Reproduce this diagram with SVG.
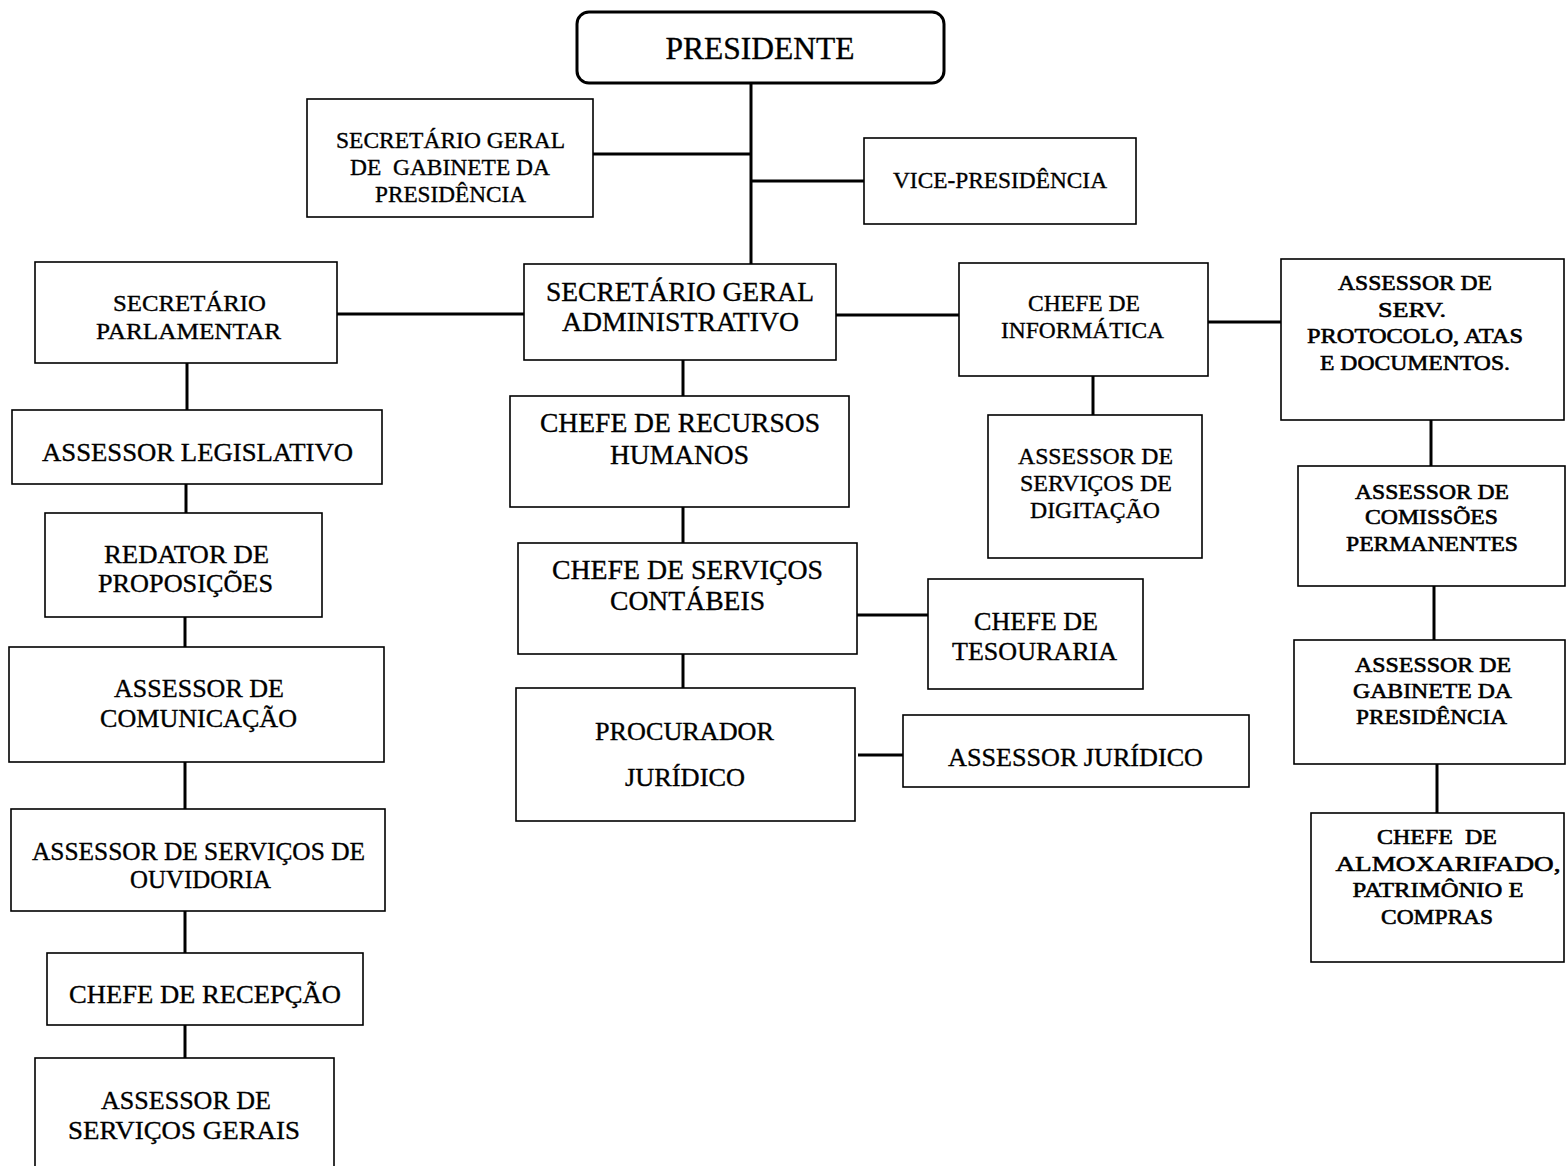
<svg xmlns="http://www.w3.org/2000/svg" width="1566" height="1166" viewBox="0 0 1566 1166">
<style>
.box{fill:#fff;stroke:#000;stroke-width:1.6}
.pres{fill:#fff;stroke:#000;stroke-width:3}
.c line{stroke:#000;stroke-width:3}
text{font-family:'Liberation Serif','DejaVu Serif',serif;fill:#000;stroke:#000;stroke-width:0.35;text-anchor:middle;white-space:pre}
.hv text{stroke-width:0.6}
.f22{font-size:22px}
.f24{font-size:24px}
.f26{font-size:26px}
.f28{font-size:28px}
.f32{font-size:32px}
</style>
<rect width="1566" height="1166" fill="#fff"/>
<g class="c" id="connectors">
<line x1="751" y1="83" x2="751" y2="264"/>
<line x1="593" y1="154" x2="751" y2="154"/>
<line x1="751" y1="181" x2="864" y2="181"/>
<line x1="337" y1="314" x2="524" y2="314"/>
<line x1="836" y1="315" x2="959" y2="315"/>
<line x1="1208" y1="322" x2="1281" y2="322"/>
<line x1="187" y1="363" x2="187" y2="410"/>
<line x1="186" y1="484" x2="186" y2="513"/>
<line x1="185" y1="617" x2="185" y2="647"/>
<line x1="185" y1="762" x2="185" y2="809"/>
<line x1="185" y1="911" x2="185" y2="953"/>
<line x1="185" y1="1025" x2="185" y2="1058"/>
<line x1="683" y1="360" x2="683" y2="396"/>
<line x1="683" y1="507" x2="683" y2="543"/>
<line x1="683" y1="654" x2="683" y2="688"/>
<line x1="857" y1="615" x2="928" y2="615"/>
<line x1="858" y1="755" x2="903" y2="755"/>
<line x1="1093" y1="376" x2="1093" y2="415"/>
<line x1="1431" y1="420" x2="1431" y2="466"/>
<line x1="1434" y1="586" x2="1434" y2="640"/>
<line x1="1437" y1="764" x2="1437" y2="813"/>
</g>
<g font-family="Liberation Serif, DejaVu Serif, serif">
<g id="presidente">
<rect class="pres" x="577" y="12" width="367" height="71" rx="12"/>
<text class="f32" x="760" y="59" textLength="189" lengthAdjust="spacingAndGlyphs">PRESIDENTE</text>
</g>
<g id="sec-gabinete">
<rect class="box" x="307" y="99" width="286" height="118"/>
<text class="f24" x="450.5" y="148" textLength="229" lengthAdjust="spacingAndGlyphs">SECRETÁRIO GERAL</text>
<text class="f24" x="450" y="175" textLength="200" lengthAdjust="spacingAndGlyphs">DE  GABINETE DA</text>
<text class="f24" x="450.5" y="202" textLength="151" lengthAdjust="spacingAndGlyphs">PRESIDÊNCIA</text>
</g>
<g id="vice">
<rect class="box" x="864" y="138" width="272" height="86"/>
<text class="f24" x="1000" y="188" textLength="214" lengthAdjust="spacingAndGlyphs">VICE-PRESIDÊNCIA</text>
</g>
<g id="sec-parlamentar">
<rect class="box" x="35" y="262" width="302" height="101"/>
<text class="f24" x="189.5" y="311" textLength="153" lengthAdjust="spacingAndGlyphs">SECRETÁRIO</text>
<text class="f24" x="188.5" y="339" textLength="185" lengthAdjust="spacingAndGlyphs">PARLAMENTAR</text>
</g>
<g id="sec-admin">
<rect class="box" x="524" y="264" width="312" height="96"/>
<text class="f28" x="680" y="301" textLength="268" lengthAdjust="spacingAndGlyphs">SECRETÁRIO GERAL</text>
<text class="f28" x="680.5" y="331" textLength="237" lengthAdjust="spacingAndGlyphs">ADMINISTRATIVO</text>
</g>
<g id="informatica">
<rect class="box" x="959" y="263" width="249" height="113"/>
<text class="f24" x="1084" y="311" textLength="112" lengthAdjust="spacingAndGlyphs">CHEFE DE</text>
<text class="f24" x="1082.5" y="338" textLength="163" lengthAdjust="spacingAndGlyphs">INFORMÁTICA</text>
</g>
<g id="protocolo" class="hv">
<rect class="box" x="1281" y="259" width="283" height="161"/>
<text class="f22" x="1415" y="290" textLength="154" lengthAdjust="spacingAndGlyphs">ASSESSOR DE</text>
<text class="f22" x="1412" y="317" textLength="68" lengthAdjust="spacingAndGlyphs">SERV.</text>
<text class="f22" x="1415" y="343" textLength="216" lengthAdjust="spacingAndGlyphs">PROTOCOLO, ATAS</text>
<text class="f22" x="1415" y="370" textLength="190" lengthAdjust="spacingAndGlyphs">E DOCUMENTOS.</text>
</g>
<g id="legislativo">
<rect class="box" x="12" y="410" width="370" height="74"/>
<text class="f26" x="197.5" y="461" textLength="311" lengthAdjust="spacingAndGlyphs">ASSESSOR LEGISLATIVO</text>
</g>
<g id="redator">
<rect class="box" x="45" y="513" width="277" height="104"/>
<text class="f26" x="186.5" y="563" textLength="165" lengthAdjust="spacingAndGlyphs">REDATOR DE</text>
<text class="f26" x="185.5" y="592" textLength="175" lengthAdjust="spacingAndGlyphs">PROPOSIÇÕES</text>
</g>
<g id="comunicacao">
<rect class="box" x="9" y="647" width="375" height="115"/>
<text class="f26" x="199" y="697" textLength="170" lengthAdjust="spacingAndGlyphs">ASSESSOR DE</text>
<text class="f26" x="198.5" y="727" textLength="197" lengthAdjust="spacingAndGlyphs">COMUNICAÇÃO</text>
</g>
<g id="ouvidoria">
<rect class="box" x="11" y="809" width="374" height="102"/>
<text class="f26" x="198.5" y="860" textLength="333" lengthAdjust="spacingAndGlyphs">ASSESSOR DE SERVIÇOS DE</text>
<text class="f26" x="200.5" y="888" textLength="141" lengthAdjust="spacingAndGlyphs">OUVIDORIA</text>
</g>
<g id="recepcao">
<rect class="box" x="47" y="953" width="316" height="72"/>
<text class="f26" x="205" y="1003" textLength="272" lengthAdjust="spacingAndGlyphs">CHEFE DE RECEPÇÃO</text>
</g>
<g id="servicos-gerais">
<rect class="box" x="35" y="1058" width="299" height="120"/>
<text class="f26" x="186" y="1109" textLength="170" lengthAdjust="spacingAndGlyphs">ASSESSOR DE</text>
<text class="f26" x="184" y="1139" textLength="232" lengthAdjust="spacingAndGlyphs">SERVIÇOS GERAIS</text>
</g>
<g id="recursos-humanos">
<rect class="box" x="510" y="396" width="339" height="111"/>
<text class="f28" x="680" y="432" textLength="280" lengthAdjust="spacingAndGlyphs">CHEFE DE RECURSOS</text>
<text class="f28" x="679.5" y="464" textLength="139" lengthAdjust="spacingAndGlyphs">HUMANOS</text>
</g>
<g id="contabeis">
<rect class="box" x="518" y="543" width="339" height="111"/>
<text class="f28" x="687.5" y="579" textLength="271" lengthAdjust="spacingAndGlyphs">CHEFE DE SERVIÇOS</text>
<text class="f28" x="687.5" y="610" textLength="155" lengthAdjust="spacingAndGlyphs">CONTÁBEIS</text>
</g>
<g id="procurador">
<rect class="box" x="516" y="688" width="339" height="133"/>
<text class="f26" x="684.5" y="740" textLength="179" lengthAdjust="spacingAndGlyphs">PROCURADOR</text>
<text class="f26" x="685" y="786" textLength="120" lengthAdjust="spacingAndGlyphs">JURÍDICO</text>
</g>
<g id="tesouraria">
<rect class="box" x="928" y="579" width="215" height="110"/>
<text class="f26" x="1036" y="630" textLength="124" lengthAdjust="spacingAndGlyphs">CHEFE DE</text>
<text class="f26" x="1034.5" y="660" textLength="165" lengthAdjust="spacingAndGlyphs">TESOURARIA</text>
</g>
<g id="assessor-juridico">
<rect class="box" x="903" y="715" width="346" height="72"/>
<text class="f26" x="1075.5" y="766" textLength="255" lengthAdjust="spacingAndGlyphs">ASSESSOR JURÍDICO</text>
</g>
<g id="digitacao">
<rect class="box" x="988" y="415" width="214" height="143"/>
<text class="f24" x="1095.5" y="464" textLength="155" lengthAdjust="spacingAndGlyphs">ASSESSOR DE</text>
<text class="f24" x="1096" y="491" textLength="152" lengthAdjust="spacingAndGlyphs">SERVIÇOS DE</text>
<text class="f24" x="1095" y="518" textLength="130" lengthAdjust="spacingAndGlyphs">DIGITAÇÃO</text>
</g>
<g id="comissoes" class="hv">
<rect class="box" x="1298" y="466" width="267" height="120"/>
<text class="f22" x="1432" y="499" textLength="154" lengthAdjust="spacingAndGlyphs">ASSESSOR DE</text>
<text class="f22" x="1431.5" y="524" textLength="133" lengthAdjust="spacingAndGlyphs">COMISSÕES</text>
<text class="f22" x="1432" y="551" textLength="172" lengthAdjust="spacingAndGlyphs">PERMANENTES</text>
</g>
<g id="gabinete" class="hv">
<rect class="box" x="1294" y="640" width="271" height="124"/>
<text class="f22" x="1433" y="672" textLength="156" lengthAdjust="spacingAndGlyphs">ASSESSOR DE</text>
<text class="f22" x="1432.5" y="698" textLength="159" lengthAdjust="spacingAndGlyphs">GABINETE DA</text>
<text class="f22" x="1431.5" y="724" textLength="151" lengthAdjust="spacingAndGlyphs">PRESIDÊNCIA</text>
</g>
<g id="almoxarifado" class="hv">
<rect class="box" x="1311" y="813" width="253" height="149"/>
<text class="f22" x="1437" y="844" textLength="120" lengthAdjust="spacingAndGlyphs">CHEFE  DE</text>
<text class="f22" x="1448" y="871" textLength="225" lengthAdjust="spacingAndGlyphs">ALMOXARIFADO,</text>
<text class="f22" x="1438" y="897" textLength="171" lengthAdjust="spacingAndGlyphs">PATRIMÔNIO E</text>
<text class="f22" x="1437" y="924" textLength="112" lengthAdjust="spacingAndGlyphs">COMPRAS</text>
</g>
</g>
</svg>
